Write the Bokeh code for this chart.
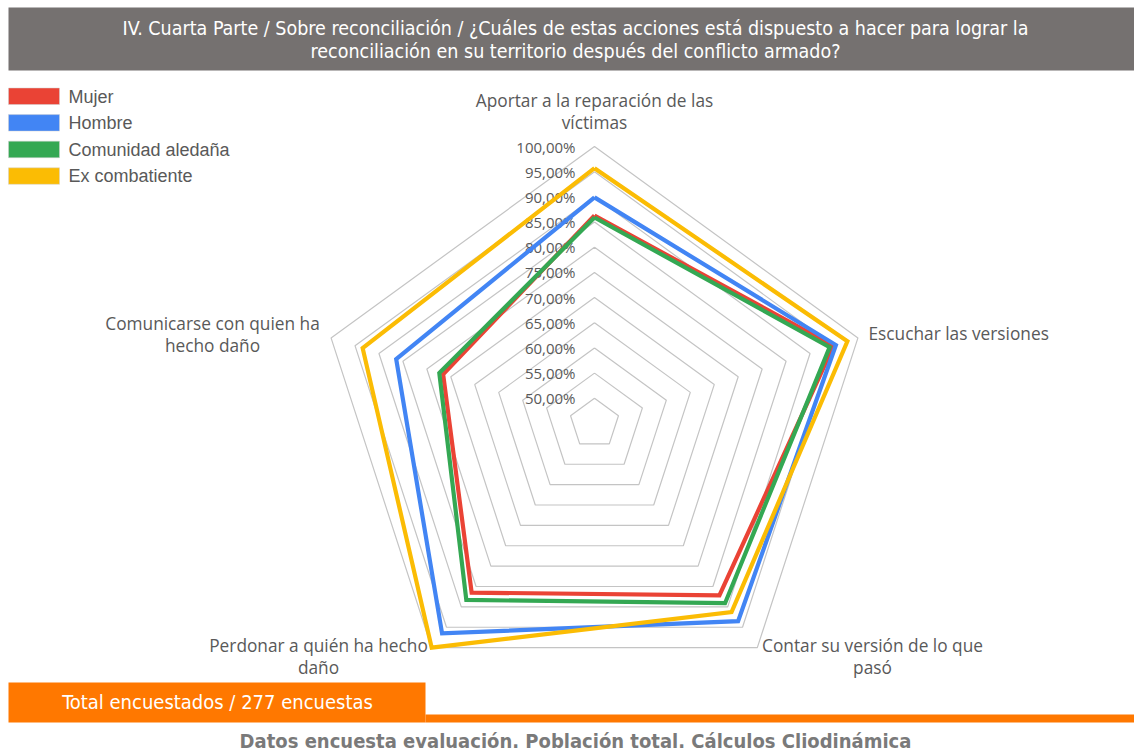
import numpy as np
from bokeh.plotting import figure
from bokeh.models import Range1d
from bokeh.core.properties import value
from bokeh.embed import file_html
from bokeh.resources import INLINE

# ---------------- data ----------------
categories = [
    ["Aportar a la reparación de las", "víctimas"],
    ["Escuchar las versiones"],
    ["Contar su versión de lo que", "pasó"],
    ["Perdonar a quién ha hecho", "daño"],
    ["Comunicarse con quien ha", "hecho daño"],
]
series_names = ["Mujer", "Hombre", "Comunidad aledaña", "Ex combatiente"]
mujer = [86.3, 94.9, 87.2, 86.5, 76.6]
hombre = [89.9, 95.4, 93.5, 96.5, 86.4]
comunidad = [85.9, 94.1, 89.1, 88.3, 77.4]
ex_combatiente = [95.7, 97.8, 91.3, 100.0, 93.4]
tick_values = [50, 55, 60, 65, 70, 75, 80, 85, 90, 95, 100]
tick_labels = ["50,00%", "55,00%", "60,00%", "65,00%", "70,00%", "75,00%",
               "80,00%", "85,00%", "90,00%", "95,00%", "100,00%"]
axis_min, axis_max = 45, 100
title_lines = ["IV. Cuarta Parte / Sobre reconciliación / ¿Cuáles de estas acciones está dispuesto a hacer para lograr la",
               "reconciliación en su territorio después del conflicto armado?"]
total_text = "Total encuestados / 277 encuestas"
footer_text = "Datos encuesta evaluación. Población total. Cálculos Cliodinámica"

colors = ["#EA4335", "#4285F4", "#34A853", "#FBBC04"]
all_series = [mujer, hombre, comunidad, ex_combatiente]

# ---------------- geometry ----------------
W, H = 1134, 751
CX, CY, R = 594.0, 423.0, 277.0
GRAY_TXT = "#595959"
FONT = "Open Sans"
NARROW = "'DejaVu Sans Condensed', 'Liberation Sans', sans-serif"

def radar_xy(vals):
    vals = np.asarray(vals, dtype=float)
    k = np.arange(len(vals))
    ang = np.deg2rad(72.0 * k)
    r = (vals - axis_min) / (axis_max - axis_min) * R
    xs = CX + r * np.sin(ang)
    ys = CY - r * np.cos(ang)
    return list(xs) + [xs[0]], list(ys) + [ys[0]]

p = figure(width=W, height=H, x_range=Range1d(0, W), y_range=Range1d(H, 0),
           output_backend="svg", toolbar_location=None, min_border=0)
p.axis.visible = False
p.grid.visible = False
p.outline_line_color = None
p.background_fill_color = "white"
p.border_fill_color = "white"

# title bar
p.quad(left=[8], right=[W], top=[7], bottom=[70], color="#757170", line_color=None)
p.text(x=[575, 575], y=[28, 51], text=title_lines, text_align="center", text_baseline="middle",
       text_color="white", text_font=value(NARROW), text_font_size="19.5px")

# grid rings
for v in tick_values:
    xs, ys = radar_xy([v] * 5)
    p.line(xs, ys, line_color="#c4c4c4", line_width=1.2)

# tick labels
tick_y = [CY - (v - axis_min) / (axis_max - axis_min) * R for v in tick_values]
p.text(x=[CX - 19] * len(tick_values), y=tick_y, text=tick_labels, text_align="right",
       text_baseline="middle", text_color=GRAY_TXT, text_font=value(FONT), text_font_size="15px")

# series
for vals, c in zip(all_series, colors):
    xs, ys = radar_xy(vals)
    p.line(xs, ys, line_color=c, line_width=4.2, line_join="miter")

# category labels
cat_pos = [(594, 100, "center"), (868, 333, "left"), (872, 645, "center"),
           (318, 645, "center"), (212, 323, "center")]
for lines, (x, y, al) in zip(categories, cat_pos):
    p.text(x=[x] * len(lines), y=[y + 22 * i for i in range(len(lines))], text=lines,
           text_align=al, text_baseline="middle", text_color=GRAY_TXT,
           text_font=value(FONT), text_font_size="17.3px")

# legend
for i, (name, c) in enumerate(zip(series_names, colors)):
    y0 = 87.5 + 26.6 * i
    p.quad(left=[8], right=[59], top=[y0], bottom=[y0 + 16.5], color=c, line_color="#d0d0d0", line_width=0.5)
    p.text(x=[68], y=[y0 + 8.5], text=[name], text_align="left", text_baseline="middle",
           text_color=GRAY_TXT, text_font=value("Liberation Sans"), text_font_size="18px")

# bottom bands
p.quad(left=[8], right=[425], top=[682], bottom=[722], color="#FF7800", line_color=None)
p.quad(left=[425], right=[W], top=[714], bottom=[722], color="#FF7800", line_color=None)
p.text(x=[217], y=[701], text=[total_text], text_align="center", text_baseline="middle",
       text_color="white", text_font=value(NARROW), text_font_size="20px")
p.text(x=[575], y=[740], text=[footer_text], text_align="center", text_baseline="middle",
       text_color="#7a7a7a", text_font=value(NARROW), text_font_size="20px",
       text_font_style="bold")

open("out.html", "w").write(file_html(p, INLINE))
